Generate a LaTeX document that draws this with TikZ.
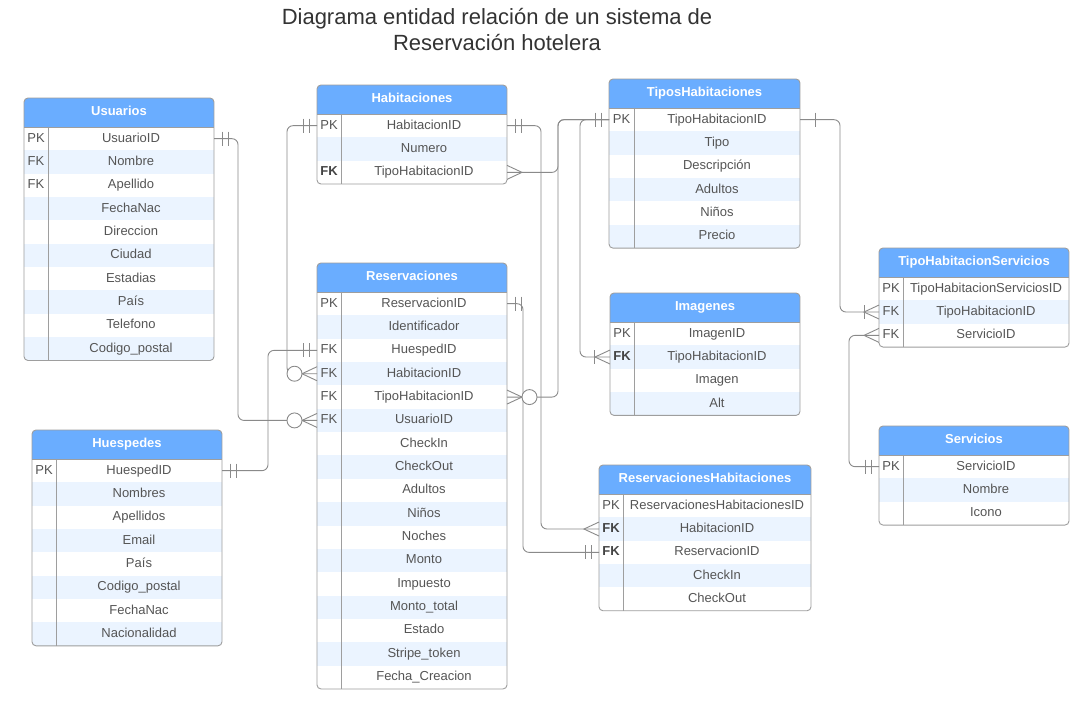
\documentclass[tikz,border=0pt]{standalone}
\usepackage{fontspec}
\setmainfont{Liberation Sans}
\usetikzlibrary{calc}
\definecolor{hdrblue}{HTML}{6AADFF}
\definecolor{stripeblue}{HTML}{EBF4FF}
\definecolor{bordergray}{HTML}{9E9E9E}
\definecolor{linegray}{HTML}{8A8A8A}
\definecolor{txtgray}{HTML}{555555}
\definecolor{keybold}{HTML}{444444}
\definecolor{titlegray}{HTML}{333333}
\def\rowh{23.35}
\def\hdrh{29}
\tikzset{
  tborder/.style={draw=bordergray, line width=0.9pt},
  rowbox/.style={inner sep=0pt, outer sep=0pt, draw=none},
  fieldtxt/.style={inner sep=0pt, text=txtgray, font=\fontsize{13}{15}\selectfont, text height=9.5pt, text depth=2.7pt},
  keytxt/.style={fieldtxt},
  hdrtxt/.style={inner sep=0pt, text=white, font=\fontsize{13}{15}\selectfont\bfseries, text height=9.5pt, text depth=2.7pt},
  titletxt/.style={inner sep=0pt, text=titlegray, font=\fontsize{22}{26}\selectfont, align=center},
  rel/.style={draw=linegray, line width=0.9pt, rounded corners=6pt},
  mk/.style={draw=linegray, line width=0.9pt},
}
% #1 id, #2 left, #3 right, #4 top, #5 key width, #6 rows, #7 title, #8 rows list
\newcommand{\erTable}[8]{%
  \pgfmathsetmacro\eL{#2}%
  \pgfmathsetmacro\eR{#3}%
  \pgfmathsetmacro\eT{#4}%
  \pgfmathsetmacro\eH{#4+\hdrh}%
  \pgfmathsetmacro\eB{#4+\hdrh+#6*\rowh}%
  \pgfmathsetmacro\eK{#2+#5}%
  \pgfmathsetmacro\eKc{#2+#5/2}%
  \pgfmathsetmacro\eC{(#2+#3)/2}%
  \pgfmathsetmacro\eF{(#2+#5+#3)/2}%
  \pgfmathsetmacro\eW{#3-#2}%
  \pgfmathsetmacro\eHm{#4+\hdrh/2}%
  \begin{scope}
    \clip[rounded corners=4pt] (\eL,\eT) rectangle (\eR,\eB);
    \fill[white] (\eL,\eT) rectangle (\eR,\eB);
    \fill[hdrblue] (\eL,\eT) rectangle (\eR,\eH);
    \foreach \kk/\fld [count=\i] in {#8} {
      \pgfmathsetmacro\yt{\eH+(\i-1)*\rowh}
      \pgfmathsetmacro\yb{\eH+\i*\rowh}
      \pgfmathtruncatemacro\erEven{mod(\i,2)}
      \ifnum\erEven=0 \fill[stripeblue] (\eL,\yt) rectangle (\eR,\yb);\fi
    }
  \end{scope}
  \node[hdrtxt] (#1-h) at (\eC,\eHm) {#7};
  \foreach \kk/\fld [count=\i] in {#8} {
    \pgfmathsetmacro\ym{\eH+(\i-0.5)*\rowh}
    \node[rowbox, minimum width=\eW pt, minimum height=\rowh pt] (#1-\i) at (\eC,\ym) {};
    \node[fieldtxt] (#1-\i-f) at (\eF,\ym) {\fld};
    \node[keytxt] (#1-\i-k) at (\eKc,\ym) {\kk};
  }
  \draw[tborder] (\eL,\eH) -- (\eR,\eH);
  \draw[tborder] (\eK,\eH) -- (\eK,\eB);
  \draw[tborder, rounded corners=4pt] (\eL,\eT) rectangle (\eR,\eB);
}
\newcommand\erDbar[2]{%
  \draw[mk] ([xshift=#2*8pt]#1) ++(0,-7) -- ++(0,14);
  \draw[mk] ([xshift=#2*14pt]#1) ++(0,-7) -- ++(0,14);}
\newcommand\erSbar[3]{\draw[mk] ([xshift=#2*#3pt]#1) ++(0,-7) -- ++(0,14);}
\newcommand\erCrow[2]{\draw[mk] ([yshift=7pt]#1) -- ([xshift=#2*15pt]#1) -- ([yshift=-7pt]#1);}
\newcommand\erCirc[2]{\draw[mk, fill=white] ([xshift=#2*22.5pt]#1) circle[radius=7.5pt];}
\begin{document}
\begin{tikzpicture}[x=1pt, y=-1pt]
\useasboundingbox (0,0) rectangle (1084,727);
\fill[white] (0,0) rectangle (1084,727);
\node[titletxt] (title) at (497,30) {Diagrama entidad relación de un sistema de\\Reservación hotelera};

\erTable{usu}{24}{214}{98}{24}{10}{Usuarios}{PK/UsuarioID, FK/Nombre, FK/Apellido, /FechaNac, /Direccion, /Ciudad, /Estadias, /País, /Telefono, /Codigo\_postal}
\erTable{hab}{317}{507}{85}{24}{3}{Habitaciones}{PK/HabitacionID, /Numero, {\color{keybold}\bfseries FK}/TipoHabitacionID}
\erTable{th}{609}{800}{79}{25}{6}{TiposHabitaciones}{PK/TipoHabitacionID, /Tipo, /Descripción, /Adultos, /Niños, /Precio}
\erTable{res}{317}{507}{263}{24}{17}{Reservaciones}{PK/ReservacionID, /Identificador, FK/HuespedID, FK/HabitacionID, FK/TipoHabitacionID, FK/UsuarioID, /CheckIn, /CheckOut, /Adultos, /Niños, /Noches, /Monto, /Impuesto, /Monto\_total, /Estado, /Stripe\_token, /Fecha\_Creacion}
\erTable{img}{610}{800}{293}{24}{4}{Imagenes}{PK/ImagenID, {\color{keybold}\bfseries FK}/TipoHabitacionID, /Imagen, /Alt}
\erTable{ths}{879}{1069}{248}{24}{3}{TipoHabitacionServicios}{PK/TipoHabitacionServiciosID, FK/TipoHabitacionID, FK/ServicioID}
\erTable{srv}{879}{1069}{426}{24}{3}{Servicios}{PK/ServicioID, /Nombre, /Icono}
\erTable{rh}{599}{811}{465}{24}{5}{ReservacionesHabitaciones}{PK/ReservacionesHabitacionesID, {\color{keybold}\bfseries FK}/HabitacionID, {\color{keybold}\bfseries FK}/ReservacionID, /CheckIn, /CheckOut}
\erTable{hue}{32}{222}{430}{24}{8}{Huespedes}{PK/HuespedID, /Nombres, /Apellidos, /Email, /País, /Codigo\_postal, /FechaNac, /Nacionalidad}

% connectors
\draw[rel] (usu-1.east) -- ++(24,0) |- (res-6.west);
\draw[rel] (hue-1.east) -- ++(46,0) |- (res-3.west);
\draw[rel] (hab-1.west) -- ++(-30,0) |- (res-4.west);
\draw[rel] (hab-1.east) -- ++(34,0) |- (rh-2.west);
\draw[rel] (hab-3.east) -- ++(51,0) |- (th-1.west);
\draw[rel] (res-1.east) -- ++(16,0) |- (rh-3.west);
\draw[rel] (res-5.east) -- ++(51,0) |- (th-1.west);
\draw[rel] (th-1.west) -- ++(-29,0) |- (img-2.west);
\draw[rel] (th-1.east) -- ++(40,0) |- (ths-2.west);
\draw[rel] (srv-1.west) -- ++(-30,0) |- (ths-3.west);

% end marks
\erDbar{usu-1.east}{1}
\erCrow{res-6.west}{-1}\erCirc{res-6.west}{-1}
\erDbar{hue-1.east}{1}
\erDbar{res-3.west}{-1}
\erDbar{hab-1.west}{-1}
\erCrow{res-4.west}{-1}\erCirc{res-4.west}{-1}
\erDbar{hab-1.east}{1}
\erCrow{rh-2.west}{-1}
\erCrow{hab-3.east}{1}
\erDbar{th-1.west}{-1}
\erDbar{res-1.east}{1}
\erDbar{rh-3.west}{-1}
\erCrow{res-5.east}{1}\erCirc{res-5.east}{1}
\erCrow{img-2.west}{-1}\erSbar{img-2.west}{-1}{16}
\erSbar{th-1.east}{1}{15}
\erCrow{ths-2.west}{-1}\erSbar{ths-2.west}{-1}{15}
\erDbar{srv-1.west}{-1}
\erCrow{ths-3.west}{-1}
\end{tikzpicture}
\end{document}
